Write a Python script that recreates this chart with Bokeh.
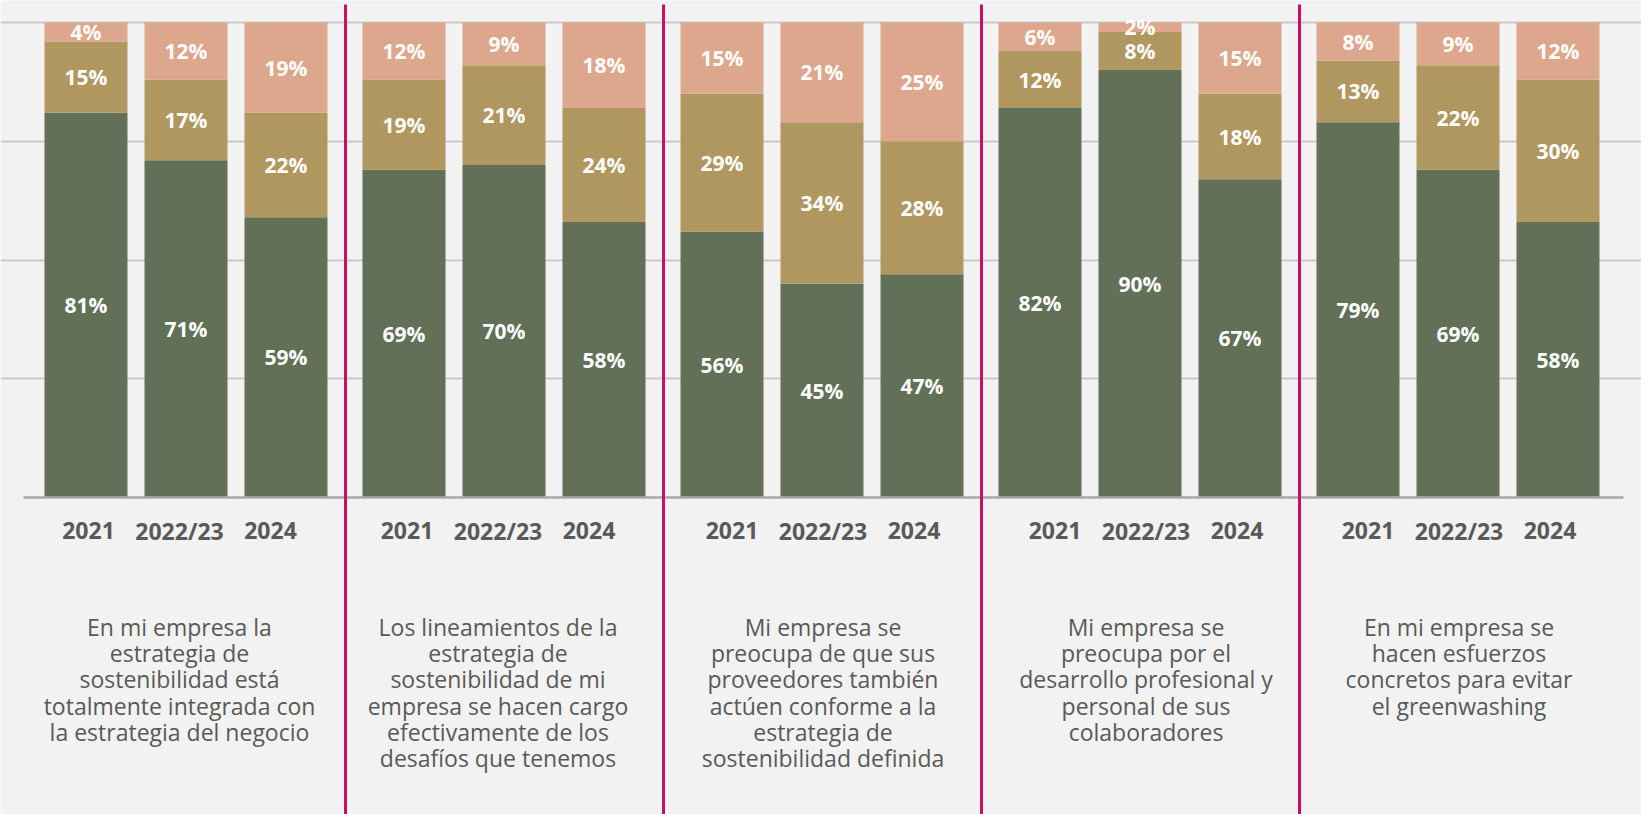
import numpy as np
from bokeh.plotting import figure
from bokeh.models import ColumnDataSource, Range1d, FixedTicker, Grid
from bokeh.core.properties import value
from bokeh.embed import file_html
from bokeh.resources import INLINE

# ---------------- data ----------------
statements = [
    "En mi empresa la\nestrategia de\nsostenibilidad está\ntotalmente integrada con\nla estrategia del negocio",
    "Los lineamientos de la\nestrategia de\nsostenibilidad de mi\nempresa se hacen cargo\nefectivamente de los\ndesafíos que tenemos",
    "Mi empresa se\npreocupa de que sus\nproveedores también\nactúen conforme a la\nestrategia de\nsostenibilidad definida",
    "Mi empresa se\npreocupa por el\ndesarrollo profesional y\npersonal de sus\ncolaboradores",
    "En mi empresa se\nhacen esfuerzos\nconcretos para evitar\nel greenwashing",
]
years = ["2021", "2022/23", "2024"]
# per statement, per year
agree = [[81, 71, 59], [69, 70, 58], [56, 45, 47], [82, 90, 67], [79, 69, 58]]
neutral = [[15, 17, 22], [19, 21, 24], [29, 34, 28], [12, 8, 18], [13, 22, 30]]
disagree = [[4, 12, 19], [12, 9, 18], [15, 21, 25], [6, 2, 15], [8, 9, 12]]

colors = ["#627058", "#b09760", "#dca78c"]
BG = "#f2f2f2"
TXT = "#595959"
RED = "#c8105f"

# ---------------- layout ----------------
GROUP_PITCH = 3.18
BAR_W = 0.83
LABEL_PITCH = 0.91
LABEL_SHIFT = [-0.065, -0.06, 0.01, 0.06, 0.01]  # per group, x units
PX_X = 100.0  # px per x unit
PX_Y = 4.75   # px per percent
W, H = 1641, 814

x_start = -0.855
y_top = 100 + 22 / PX_Y
y_bot = -(H - 497) / PX_Y

p = figure(width=W, height=H, output_backend="svg", toolbar_location=None,
           x_range=Range1d(x_start, x_start + W / PX_X),
           y_range=Range1d(y_bot, y_top), min_border=0)
p.axis.visible = False
p.grid.visible = False
p.outline_line_color = None
p.background_fill_color = BG
p.border_fill_color = BG

# gridlines
g = Grid(dimension=1, ticker=FixedTicker(ticks=[25, 50, 75, 100]),
         grid_line_color="#c9c9c9", grid_line_width=2)
p.add_layout(g)

xs, lx, yr, a, n, d = [], [], [], [], [], []
for k in range(len(statements)):
    for j, yl in enumerate(years):
        xs.append(k * GROUP_PITCH + j)
        lx.append(k * GROUP_PITCH + 1 + LABEL_SHIFT[k] + (j - 1) * LABEL_PITCH)
        yr.append(yl)
        a.append(agree[k][j])
        n.append(neutral[k][j])
        d.append(disagree[k][j])
xs = np.array(xs, dtype=float)
a = np.array(a, dtype=float)
n = np.array(n, dtype=float)
d = np.array(d, dtype=float)

layers = [(np.zeros_like(a), a), (a, a + n), (a + n, a + n + d)]
vals = [a, n, d]
for (b, t), c, v in zip(layers, colors, vals):
    src = ColumnDataSource(dict(x=xs, b=b, t=t, mid=(b + t) / 2,
                                lab=[f"{int(q)}%" for q in v]))
    p.vbar(x="x", bottom="b", top="t", width=BAR_W, source=src,
           fill_color=c, line_color=None)
    p.text(x="x", y="mid", text="lab", source=src, text_color="white",
           text_font=value("Open Sans"), text_font_style="bold",
           text_font_size="21px", text_align="center", text_baseline="middle")

# baseline axis line
p.segment(x0=[xs.min() - 0.625], y0=[0], x1=[xs.max() + 0.655], y1=[0],
          line_color="#a8a8a8", line_width=2.5)

# year labels
p.text(x=lx, y=[-6.95] * len(lx), text=yr, text_color=TXT,
       text_font=value("Open Sans"), text_font_style="bold",
       text_font_size="23px", text_align="center", text_baseline="middle")

# statements
gx = [k * GROUP_PITCH + 1 + LABEL_SHIFT[k] for k in range(len(statements))]
p.text(x=gx, y=[-23.85] * len(gx), text=statements, text_color=TXT,
       text_font=value("Open Sans"), text_font_size="23px",
       text_align="center", text_baseline="top", text_line_height=0.82)

# separators
sx = [k * GROUP_PITCH + 2.595 for k in range(len(statements) - 1)]
for x in sx:
    p.segment(x0=[x], y0=[y_bot], x1=[x], y1=[100 + 18 / PX_Y],
              line_color=RED, line_width=3)

open("out.html", "w").write(file_html(p, INLINE))
